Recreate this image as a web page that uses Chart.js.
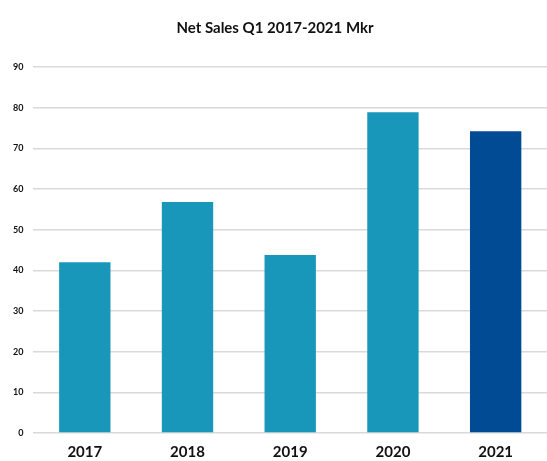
<!DOCTYPE html>
<html>
<head>
<meta charset="utf-8">
<script src="https://cdn.jsdelivr.net/npm/chart.js@4/dist/chart.umd.min.js"></script>
<style>
  body { margin: 0; background: #fff; }
  #chartSales { display: block; }
</style>
</head>
<body>
<canvas id="chartSales" width="547" height="461"></canvas>
<script>
const years = ['2017', '2018', '2019', '2020', '2021'];
const netSales = [42, 56.8, 43.8, 78.9, 74.2];
const barColors = ['#1897bb', '#1897bb', '#1897bb', '#1897bb', '#014b94'];

const ctxSales = document.getElementById('chartSales');
const chartSales = new Chart(ctxSales, {
    type: 'bar',
    data: {
        labels: years,
        datasets: [{
            label: 'Net Sales',
            data: netSales,
            backgroundColor: barColors,
            borderWidth: 0,
            categoryPercentage: 1,
            barPercentage: 0.5
        }]
    },
    options: {
        responsive: false,
        animation: false,
        layout: {
            padding: { left: 3, right: 0, top: 11, bottom: 0 }
        },
        plugins: {
            legend: { display: false },
            tooltip: { enabled: false },
            title: {
                display: true,
                text: 'Net Sales Q1 2017-2021 Mkr',
                color: '#111',
                font: { family: 'Lato', size: 15, weight: 'bold' },
                padding: { top: 8, bottom: 30 }
            }
        },
        scales: {
            x: {
                grid: { display: false, drawTicks: false },
                border: { display: false },
                ticks: {
                    color: '#111',
                    padding: 10,
                    font: { family: 'Lato', size: 15, weight: 'bold' }
                },
                afterFit(scale) { scale.height = 28; }
            },
            y: {
                min: 0,
                max: 90,
                grid: { color: '#d9d9d9', lineWidth: 1.5, drawTicks: false },
                border: { display: false },
                ticks: {
                    stepSize: 10,
                    color: '#111',
                    padding: 10,
                    font: { family: 'Lato', size: 9, weight: 'bold' }
                }
            }
        }
    }
});
</script>
</body>
</html>
